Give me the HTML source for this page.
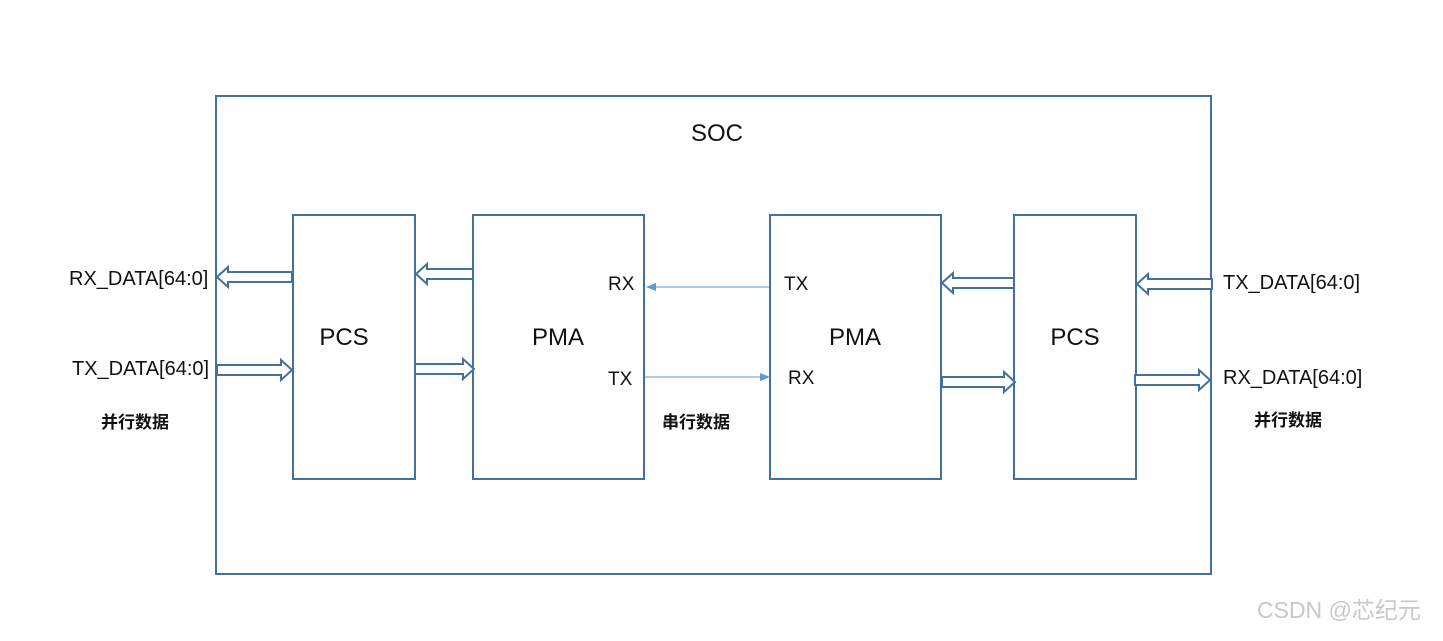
<!DOCTYPE html>
<html><head><meta charset="utf-8"><style>
body{margin:0;width:1443px;height:636px;background:#fff;overflow:hidden}
svg text{font-family:"Liberation Sans","Noto Sans CJK SC",sans-serif;fill:#111}
</style></head><body>
<svg width="1443" height="636" xmlns="http://www.w3.org/2000/svg">
<defs>
<marker id="ah" markerWidth="10" markerHeight="8" refX="9" refY="4" orient="auto" markerUnits="userSpaceOnUse">
<path d="M0,0 L10,4 L0,8 Z" fill="#5b9bd5"/></marker>
</defs>
<g fill="none" stroke="#41719c" stroke-width="2">
<rect x="216" y="96" width="995" height="478"/>
<rect x="293" y="215" width="122" height="264"/>
<rect x="473" y="215" width="171" height="264"/>
<rect x="770" y="215" width="171" height="264"/>
<rect x="1014" y="215" width="122" height="264"/>
</g>
<g fill="#fff" stroke="#41719c" stroke-width="2" stroke-linejoin="miter">
<path d="M217,277 L228,267 L228,272 L292,272 L292,282 L228,282 L228,287 Z"/>
<path d="M416,274 L427,264 L427,269 L473,269 L473,279 L427,279 L427,284 Z"/>
<path d="M942,283 L953,273 L953,278 L1014,278 L1014,288 L953,288 L953,293 Z"/>
<path d="M1137,284 L1148,274 L1148,279 L1212,279 L1212,289 L1148,289 L1148,294 Z"/>
<path d="M292,370 L281,360 L281,365 L217,365 L217,375 L281,375 L281,380 Z"/>
<path d="M474,369 L463,359 L463,364 L415,364 L415,374 L463,374 L463,379 Z"/>
<path d="M1015,382 L1004,372 L1004,377 L942,377 L942,387 L1004,387 L1004,392 Z"/>
<path d="M1210,380 L1199,370 L1199,375 L1135,375 L1135,385 L1199,385 L1199,390 Z"/>
</g>
<line x1="769" y1="287" x2="647" y2="287" stroke="#5b9bd5" stroke-width="1" marker-end="url(#ah)"/>
<line x1="645" y1="377" x2="769" y2="377" stroke="#5b9bd5" stroke-width="1" marker-end="url(#ah)"/>
<text x="717" y="141" font-size="24" text-anchor="middle">SOC</text>
<text x="344" y="345" font-size="24" text-anchor="middle">PCS</text>
<text x="558" y="345" font-size="24" text-anchor="middle">PMA</text>
<text x="855" y="345" font-size="24" text-anchor="middle">PMA</text>
<text x="1075" y="345" font-size="24" text-anchor="middle">PCS</text>
<text x="608" y="290" font-size="19">RX</text>
<text x="608" y="385" font-size="19">TX</text>
<text x="784" y="290" font-size="19">TX</text>
<text x="788" y="384" font-size="19">RX</text>
<text x="69" y="285" font-size="20">RX_DATA[64:0]</text>
<text x="72" y="375" font-size="20">TX_DATA[64:0]</text>
<text x="1223" y="289" font-size="20">TX_DATA[64:0]</text>
<text x="1223" y="384" font-size="20">RX_DATA[64:0]</text>
<text x="101" y="428" font-size="17" font-weight="bold">并行数据</text>
<text x="662" y="428" font-size="17" font-weight="bold">串行数据</text>
<text x="1254" y="426" font-size="17" font-weight="bold">并行数据</text>
<text x="1257" y="618" font-size="23" style="fill:#c8c8c8">CSDN @芯纪元</text>
</svg>
</body></html>
